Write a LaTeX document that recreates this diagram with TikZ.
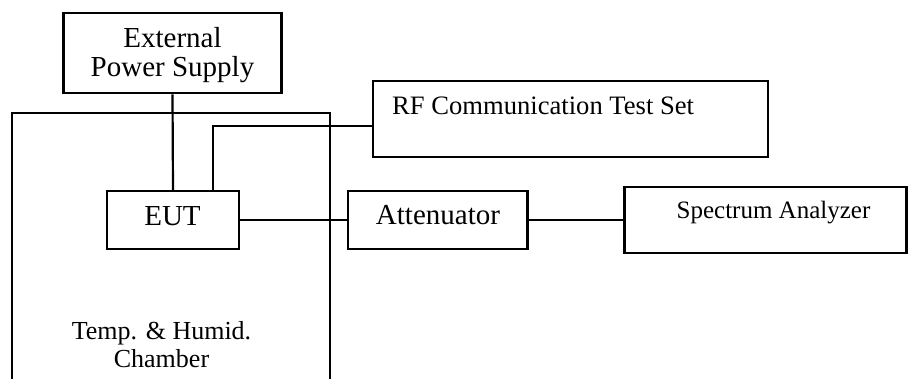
\documentclass[tikz,border=0pt]{standalone}
\usepackage{fontspec}
\setmainfont{Liberation Serif}
\begin{document}
\begin{tikzpicture}[x=1pt,y=-1pt,
  box/.style={draw=black, line width=2.2pt, rectangle, inner sep=0pt},
  lbl/.style={inner sep=0pt, anchor=base},
  wire/.style={draw=black, line width=2.2pt}]
\useasboundingbox (0,0) rectangle (909,379);
% boxes
\node[box, minimum width=218pt, minimum height=80pt] (eps) at (172.5,53.3) {};
\node[box, minimum width=395pt, minimum height=76pt] (rf) at (570.5,119) {};
\node[box, minimum width=132.5pt, minimum height=58pt] (eut) at (173,220) {};
\node[box, minimum width=179.5pt, minimum height=58pt] (att) at (437.8,220) {};
\node[box, minimum width=282pt, minimum height=66.5pt] (sa) at (765.5,220) {};
% chamber
\coordinate (chbl) at (12,380);
\coordinate (chtl) at (12,113);
\coordinate (chtr) at (330,113);
\coordinate (chbr) at (330,380);
\draw[wire] (chbl) -- (chtl) -- (chtr) -- (chbr);
% labels
\node[lbl, font=\fontsize{29}{29}\selectfont] (t1) at (172.5,47.7) {External};
\node[lbl, font=\fontsize{29}{29}\selectfont] (t2) at (172.5,77) {Power Supply};
\node[lbl, font=\fontsize{29}{29}\selectfont] (t3) at (172.5,225.7) {EUT};
\node[lbl, font=\fontsize{29}{29}\selectfont] (t4) at (438,225) {Attenuator};
\node[inner sep=0pt, anchor=base west, font=\fontsize{26.6}{26.6}\selectfont] (t5) at (392,115) {RF Communication Test Set};
\node[lbl, font=\fontsize{25}{25}\selectfont] (t6) at (773.5,218.3) {Spectrum Analyzer};
\node[lbl, font=\fontsize{26}{26}\selectfont] (t7) at (161.5,339.3) {Temp. \& Humid.};
\node[lbl, font=\fontsize{26}{26}\selectfont] (t8) at (161.5,367.7) {Chamber};
% connectors
\coordinate (rfc) at (213,126);
\draw[wire] (eps.south) -- (eut.north);
\draw[wire] (rf.west |- rfc) -- (rfc) -- (rfc |- eut.north);
\draw[wire] (eut.east) -- (att.west);
\draw[wire] (att.east) -- (sa.west);
\end{tikzpicture}
\end{document}
